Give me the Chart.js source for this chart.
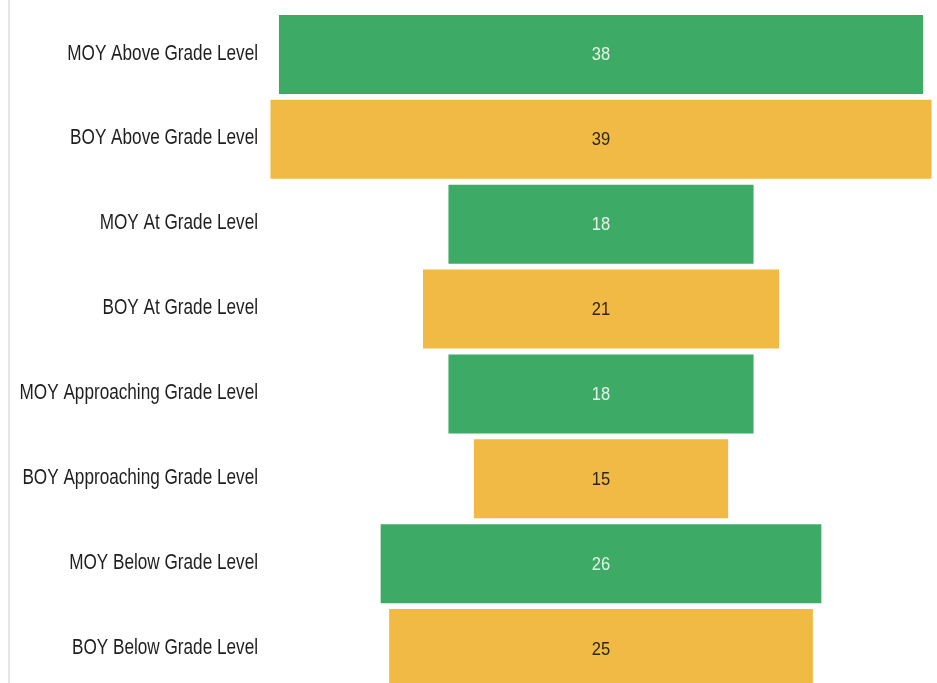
<!DOCTYPE html>
<html>
<head>
<meta charset="utf-8">
<title>Grade Level Funnel</title>
<script src="https://cdn.jsdelivr.net/npm/chart.js@4/dist/chart.umd.min.js"></script>
<style>
    html, body { margin: 0; padding: 0; background: #fff; overflow: hidden; }
    #wrap { position: relative; width: 937px; height: 683px; overflow: hidden; }
    #edge { position: absolute; left: 8px; top: 0; width: 2px; height: 683px; background: #e6e6e6; }
    #canvasBox { position: absolute; left: 0; top: 0; width: 940px; height: 700px; }
</style>
</head>
<body>
<div id="wrap">
    <div id="edge"></div>
    <div id="canvasBox"><canvas id="funnelChart" width="940" height="700"></canvas></div>
</div>
<script>
// ==================== DATA ====================
const categories = [
    'MOY Above Grade Level',
    'BOY Above Grade Level',
    'MOY At Grade Level',
    'BOY At Grade Level',
    'MOY Approaching Grade Level',
    'BOY Approaching Grade Level',
    'MOY Below Grade Level',
    'BOY Below Grade Level'
];
const values = [38, 39, 18, 21, 18, 15, 26, 25];
const periods = ['MOY', 'BOY', 'MOY', 'BOY', 'MOY', 'BOY', 'MOY', 'BOY'];

const periodColors = { MOY: '#3dab66', BOY: '#f0ba44' };
const periodTextColors = { MOY: '#e4f3e6', BOY: '#2e2718' };
const FONT = '"Liberation Sans", Arial, sans-serif';

// funnel bars are floating bars centred on zero
const spans = values.map(v => [-v / 2, v / 2]);

// draw text squeezed horizontally, anchored at x
function narrowText(ctx, text, x, y, align, squeeze) {
    ctx.save();
    ctx.translate(x, y);
    ctx.scale(squeeze, 1);
    ctx.textAlign = align;
    ctx.fillText(text, 0, 0);
    ctx.restore();
}

// ==================== LABELS ====================
const funnelLabels = {
    id: 'funnelLabels',
    afterDatasetsDraw(chart) {
        const { ctx } = chart;
        const yScale = chart.scales.y;
        const meta = chart.getDatasetMeta(0);
        ctx.save();
        ctx.textBaseline = 'middle';
        // category names, right aligned next to the axis
        ctx.font = '22px ' + FONT;
        ctx.fillStyle = '#1f1f1f';
        categories.forEach((c, i) => {
            narrowText(ctx, c, yScale.right - 4, yScale.getPixelForTick(i) - 1, 'right', 0.78);
        });
        // values inside the bars
        ctx.font = '18px ' + FONT;
        meta.data.forEach((bar, i) => {
            ctx.fillStyle = periodTextColors[periods[i]];
            narrowText(ctx, String(values[i]), (bar.x + bar.base) / 2, bar.y + 1, 'center', 0.92);
        });
        ctx.restore();
    }
};

// ==================== CHART ====================
const ctx = document.getElementById('funnelChart');
new Chart(ctx, {
    type: 'bar',
    data: {
        labels: categories,
        datasets: [{
            data: spans,
            backgroundColor: periods.map(p => periodColors[p]),
            borderWidth: 0,
            barPercentage: 0.93,
            categoryPercentage: 1
        }]
    },
    options: {
        indexAxis: 'y',
        responsive: false,
        animation: false,
        layout: { padding: { top: 12, bottom: 9, left: 0, right: 0 } },
        plugins: { legend: { display: false }, tooltip: { enabled: false } },
        scales: {
            x: {
                display: false,
                min: -20,
                max: 20
            },
            y: {
                grid: { display: false, drawTicks: false },
                border: { display: false },
                afterFit: scale => { scale.width = 262; },
                ticks: { display: false }
            }
        }
    },
    plugins: [funnelLabels]
});
</script>
</body>
</html>
